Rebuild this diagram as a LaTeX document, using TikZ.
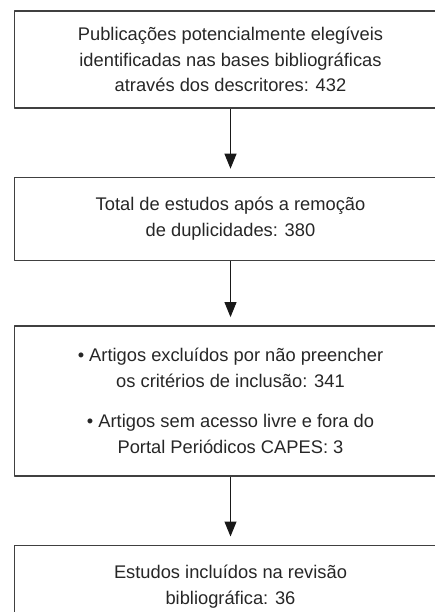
\documentclass[tikz,border=0pt]{standalone}
\usepackage{fontspec}
\setmainfont{Liberation Sans}
\usetikzlibrary{positioning,arrows.meta}
\begin{document}
\begin{tikzpicture}[x=1pt,y=-1pt,>={Triangle[length=15pt,width=12pt]}, line join=round,
	font=\fontsize{18.3}{25.7}\selectfont,
	caixa/.style={draw=black!75, line width=1.4pt, text=black!85, align=center, minimum width=432pt, inner sep=0pt},
	seta/.style={->, line width=1pt, black!90, shorten >=8pt}]
		\def\xc{230.5} \def\largura{435} \def\altura{612} % Dimensões
		\useasboundingbox (0,0) rectangle (\largura,\altura);
		\clip (0,0) rectangle (\largura,\altura);
		\node[caixa, minimum height=97pt] (pub) at (\xc,59.5) {Publicações potencialmente elegíveis\\identificadas nas bases bibliográficas\\através dos descritores: 432};
		\node[caixa, minimum height=83pt, below=68pt of pub] (total) {Total de estudos após a remoção\\de duplicidades: 380};
		\node[caixa, minimum height=150pt, below=64pt of total] (excl) {\textbullet\ Artigos excluídos por não preencher\\os critérios de inclusão: 341\\[14pt]\textbullet\ Artigos sem acesso livre e fora do\\Portal Periódicos CAPES: 3};
		\node[caixa, minimum height=83pt, below=68pt of excl] (incl) {Estudos incluídos na revisão\\bibliográfica: 36};
\draw[seta] (pub)--(total);
\draw[seta] (total)--(excl);
\draw[seta] (excl)--(incl);
\end{tikzpicture}
\end{document}
